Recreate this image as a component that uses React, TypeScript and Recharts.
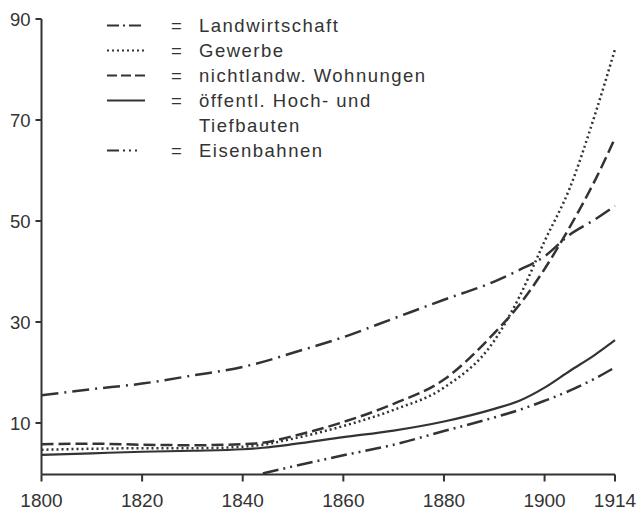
import { LineChart, Line, XAxis, YAxis } from "recharts";

const years = [1800, 1810, 1820, 1830, 1840, 1844, 1850, 1860, 1870, 1880, 1890, 1895, 1900, 1905, 1910, 1914];

const landwirtschaft = [15.5, 16.7, 17.8, 19.4, 21.1, 22.1, 23.9, 27, 30.7, 34.4, 38, 40.3, 43, 47.3, 50.3, 53];
const gewerbe = [4.7, 4.9, 5.0, 5.0, 5.3, 5.7, 6.9, 9.4, 12.6, 17.0, 26.3, 35, 46, 56.5, 71, 84];
const wohnungen = [5.8, 5.9, 5.7, 5.6, 5.8, 6.1, 7.4, 10.2, 13.8, 18.6, 27.8, 33.4, 40.5, 48.8, 58, 66.4];
const oeffentlich = [3.7, 4.0, 4.3, 4.5, 4.8, 5.1, 5.8, 7.2, 8.5, 10.3, 12.8, 14.4, 17.0, 20.3, 23.5, 26.4];
const eisenbahnen = [null, null, null, null, null, 0, 1.4, 3.6, 5.7, 8.4, 11.1, 12.6, 14.4, 16.4, 18.8, 21];

const xTicks = [1800, 1820, 1840, 1860, 1880, 1900, 1914];
const yTicks = [10, 30, 50, 70, 90];

const data = years.map((year, i) => ({
  year,
  landwirtschaft: landwirtschaft[i],
  gewerbe: gewerbe[i],
  wohnungen: wohnungen[i],
  oeffentlich: oeffentlich[i],
  eisenbahnen: eisenbahnen[i],
}));

const ink = "#333";
const font = "'Liberation Sans', Arial, sans-serif";

// legend rows: sample dash pattern, label lines
const legendRows = [
  { dash: "12 4 2 4", label: ["Landwirtschaft"] },
  { dash: "2 3", label: ["Gewerbe"] },
  { dash: "10 4", label: ["nichtlandw. Wohnungen"] },
  { dash: undefined, label: ["öffentl. Hoch- und", "Tiefbauten"] },
  { dash: "12 4 2 4 2 4 2 20", label: ["Eisenbahnen"] },
];

const rowH = 25;

function KeyBox() {
  return (
    <div
      style={{
        position: "absolute",
        left: 107,
        top: 12.5,
        fontFamily: font,
        fontSize: 18.5,
        letterSpacing: 1.5,
        color: ink,
      }}
    >
      {legendRows.map((r, i) => (
        <div key={i} style={{ position: "relative", height: rowH * r.label.length }}>
          <svg width={40} height={rowH} style={{ position: "absolute", left: 0, top: 0 }}>
            <line x1={0} x2={38} y1={rowH / 2} y2={rowH / 2} stroke={ink} strokeWidth={2.2} strokeDasharray={r.dash} />
          </svg>
          <div style={{ position: "absolute", left: 64, top: 0, lineHeight: rowH + "px" }}>=</div>
          <div style={{ position: "absolute", left: 92, top: 0, lineHeight: rowH + "px", whiteSpace: "nowrap" }}>
            {r.label.map((l, j) => (
              <div key={j}>{l}</div>
            ))}
          </div>
        </div>
      ))}
    </div>
  );
}

export default function App() {
  return (
    <div style={{ position: "absolute", left: 0, top: 0, width: 638, height: 510, background: "#fff" }}>
      <LineChart width={638} height={510} data={data} margin={{ top: 19, right: 23, left: 0, bottom: 0 }}>
        <XAxis
          dataKey="year"
          type="number"
          domain={[1800, 1914]}
          ticks={xTicks}
          tick={{ fill: ink, fontSize: 19, fontFamily: font }}
          tickSize={7}
          tickMargin={12}
          height={35.5}
          stroke={ink}
          strokeWidth={2}
          interval={0}
        />
        <YAxis
          type="number"
          domain={[-0.2, 90]}
          ticks={yTicks}
          tick={{ fill: ink, fontSize: 18.5, fontFamily: font }}
          tickSize={6}
          tickMargin={5}
          width={41.5}
          stroke={ink}
          strokeWidth={2}
          interval={0}
        />
        <Line type="monotone" dataKey="landwirtschaft" stroke={ink} strokeWidth={2.5} strokeDasharray="17 6 2 6" dot={false} isAnimationActive={false} />
        <Line type="monotone" dataKey="gewerbe" stroke={ink} strokeWidth={2.5} strokeDasharray="2 3" dot={false} isAnimationActive={false} />
        <Line type="monotone" dataKey="wohnungen" stroke={ink} strokeWidth={2.5} strokeDasharray="12 5" dot={false} isAnimationActive={false} />
        <Line type="monotone" dataKey="oeffentlich" stroke={ink} strokeWidth={2.2} dot={false} isAnimationActive={false} />
        <Line type="monotone" dataKey="eisenbahnen" stroke={ink} strokeWidth={2.5} strokeDasharray="16 5 2 5 2 5" dot={false} isAnimationActive={false} />
      </LineChart>
      <KeyBox />
    </div>
  );
}
